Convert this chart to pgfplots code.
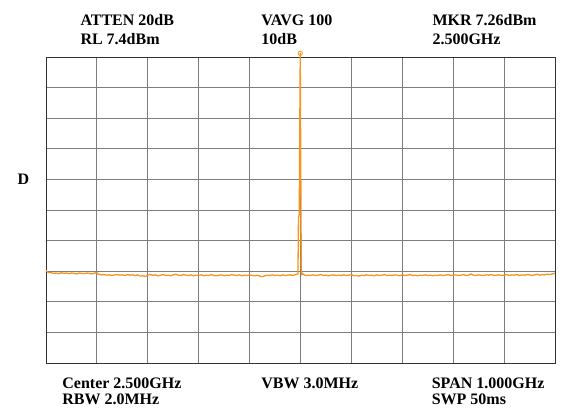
\documentclass[border=0pt]{standalone}
\usepackage{pgfplots}
\pgfplotsset{compat=1.18}
\usepackage{fontspec}
\setmainfont{Liberation Serif}
\definecolor{trace}{RGB}{247,148,29}
\definecolor{gridc}{RGB}{125,125,125}
\begin{document}
\begin{tikzpicture}[x=1pt,y=1pt]
\path[use as bounding box] (0,0) rectangle (563,408);
\begin{axis}[
  at={(46pt,45pt)}, anchor=south west,
  scale only axis, width=509pt, height=306pt,
  xmin=0, xmax=10, ymin=0, ymax=10,
  xtick={0,1,...,10}, ytick={0,1,...,10},
  xticklabels={}, yticklabels={},
  major tick length=0pt,
  grid=major,
  major grid style={gridc, line width=0.9pt},
  axis line style={black!80, line width=0.9pt},
  clip=false,
]
\addplot[trace, line width=1.3pt, line join=round] table {
x y
0.00 3.03
0.03 2.97
0.05 2.96
0.10 2.95
0.15 2.93
0.20 2.94
0.25 2.92
0.30 2.95
0.35 2.93
0.40 2.94
0.45 2.92
0.50 2.94
0.55 2.93
0.60 2.91
0.65 2.94
0.70 2.93
0.75 2.92
0.80 2.94
0.85 2.93
0.90 2.91
0.95 2.94
1.00 2.95
1.03 2.90
1.10 2.88
1.15 2.89
1.20 2.87
1.25 2.88
1.30 2.86
1.35 2.88
1.40 2.89
1.45 2.87
1.50 2.88
1.55 2.86
1.60 2.89
1.65 2.87
1.70 2.88
1.75 2.86
1.80 2.88
1.85 2.84
1.90 2.85
1.95 2.83
2.00 2.87
2.05 2.89
2.10 2.87
2.15 2.88
2.20 2.85
2.25 2.87
2.30 2.89
2.35 2.86
2.40 2.87
2.45 2.85
2.50 2.88
2.55 2.90
2.60 2.87
2.65 2.86
2.70 2.89
2.75 2.87
2.80 2.86
2.85 2.88
2.90 2.85
2.95 2.87
3.00 2.86
3.05 2.88
3.10 2.85
3.15 2.87
3.20 2.86
3.25 2.89
3.30 2.86
3.35 2.85
3.40 2.87
3.45 2.88
3.50 2.85
3.55 2.87
3.60 2.86
3.65 2.89
3.70 2.87
3.75 2.86
3.80 2.88
3.85 2.85
3.90 2.87
3.95 2.86
4.00 2.88
4.05 2.86
4.10 2.85
4.15 2.87
4.20 2.84
4.25 2.82
4.30 2.85
4.35 2.87
4.40 2.86
4.45 2.88
4.50 2.86
4.55 2.87
4.60 2.85
4.65 2.88
4.70 2.86
4.75 2.87
4.80 2.88
4.85 2.86
4.90 2.89
4.95 2.91
4.96 4.74
4.975 4.85
4.995 10.12
5.015 3.10
5.025 2.88
5.04 2.93
5.06 2.89
5.10 2.86
5.15 2.87
5.20 2.86
5.25 2.88
5.30 2.86
5.35 2.87
5.40 2.89
5.45 2.86
5.50 2.87
5.55 2.85
5.60 2.87
5.65 2.88
5.70 2.86
5.75 2.87
5.80 2.86
5.85 2.88
5.90 2.86
5.95 2.87
6.00 2.89
6.05 2.85
6.10 2.86
6.15 2.84
6.20 2.87
6.25 2.86
6.30 2.88
6.35 2.86
6.40 2.87
6.45 2.85
6.50 2.88
6.55 2.86
6.60 2.87
6.65 2.89
6.70 2.86
6.75 2.87
6.80 2.86
6.85 2.88
6.90 2.87
6.95 2.85
7.00 2.88
7.05 2.86
7.10 2.87
7.15 2.89
7.20 2.86
7.25 2.87
7.30 2.85
7.35 2.87
7.40 2.86
7.45 2.88
7.50 2.86
7.55 2.87
7.60 2.85
7.65 2.87
7.70 2.86
7.75 2.88
7.80 2.86
7.85 2.87
7.90 2.89
7.95 2.86
8.00 2.87
8.05 2.88
8.10 2.86
8.15 2.87
8.20 2.89
8.25 2.86
8.30 2.87
8.35 2.91
8.40 2.87
8.45 2.86
8.50 2.88
8.55 2.87
8.60 2.86
8.65 2.88
8.70 2.87
8.75 2.89
8.80 2.86
8.85 2.87
8.90 2.88
8.95 2.86
9.00 2.87
9.05 2.89
9.10 2.86
9.15 2.88
9.20 2.87
9.25 2.89
9.30 2.86
9.35 2.88
9.40 2.87
9.45 2.89
9.50 2.88
9.55 2.86
9.60 2.88
9.65 2.90
9.70 2.87
9.75 2.89
9.80 2.88
9.85 2.90
9.90 2.89
9.95 2.91
10.00 2.93
};
\addplot[trace, only marks, mark=o, mark size=2.2pt, mark options={line width=0.8pt}] coordinates {(4.995,10.12)};
\end{axis}
\begin{scope}[every node/.style={inner sep=0pt, anchor=base west, font=\fontsize{16}{18}\selectfont\bfseries}]
\node at (80.3,382) {ATTEN 20dB};
\node at (80.3,363) {RL 7.4dBm};
\node at (261.2,382) {VAVG 100};
\node at (261.2,363) {10dB};
\node at (432.3,382) {MKR 7.26dBm};
\node at (432.3,363) {2.500GHz};
\node at (62.2,19.5) {Center 2.500GHz};
\node at (62.2,3.5) {RBW 2.0MHz};
\node at (261.2,19.5) {VBW 3.0MHz};
\node at (431.6,19.5) {SPAN 1.000GHz};
\node at (431.6,3.5) {SWP 50ms};
\node at (17.3,224) {D};
\end{scope}
\end{tikzpicture}
\end{document}
